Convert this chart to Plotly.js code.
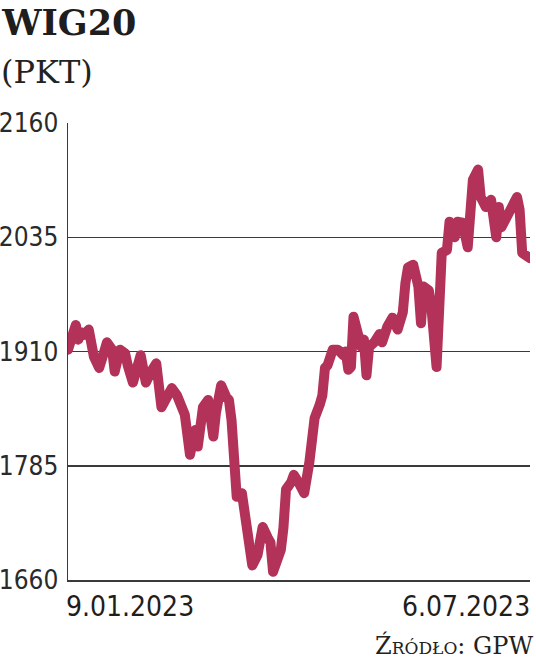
<!DOCTYPE html>
<html>
<head>
<meta charset="utf-8">
<script src="https://cdn.plot.ly/plotly-3.0.1.min.js"></script>
<style>
html,body{margin:0;padding:0;background:#fff;}
#chart{width:536px;height:667px;}
#chart .scatterlayer path.js-line{stroke-linejoin:round;stroke-linecap:round;}
</style>
</head>
<body>
<div id="chart"></div>
<script>
// WIG20 closing levels (points)
const dates = [
  '2023-01-09','2023-01-11','2023-01-12','2023-01-13','2023-01-14','2023-01-15','2023-01-17','2023-01-19','2023-01-21','2023-01-22',
  '2023-01-24','2023-01-26','2023-01-27','2023-01-29','2023-01-31','2023-02-01','2023-02-03','2023-02-06','2023-02-08','2023-02-10',
  '2023-02-12','2023-02-14','2023-02-16','2023-02-18','2023-02-20','2023-02-21','2023-02-23','2023-02-25','2023-02-27','2023-02-28',
  '2023-03-02','2023-03-04','2023-03-06','2023-03-07','2023-03-09','2023-03-11','2023-03-12','2023-03-13','2023-03-14','2023-03-15',
  '2023-03-17','2023-03-19','2023-03-20','2023-03-21','2023-03-23','2023-03-25','2023-03-27','2023-03-28','2023-03-29','2023-03-30',
  '2023-04-01','2023-04-02','2023-04-03','2023-04-05','2023-04-06','2023-04-08','2023-04-10','2023-04-12','2023-04-13','2023-04-14',
  '2023-04-16','2023-04-17','2023-04-18','2023-04-19','2023-04-21','2023-04-23','2023-04-25','2023-04-26','2023-04-27','2023-04-28',
  '2023-04-29','2023-04-30','2023-05-02','2023-05-03','2023-05-04','2023-05-05','2023-05-07','2023-05-09','2023-05-10','2023-05-12',
  '2023-05-14','2023-05-16','2023-05-18','2023-05-19','2023-05-20','2023-05-22','2023-05-24','2023-05-25','2023-05-26','2023-05-28',
  '2023-05-29','2023-05-31','2023-06-01','2023-06-02','2023-06-04','2023-06-05','2023-06-06','2023-06-07','2023-06-08','2023-06-10',
  '2023-06-12','2023-06-13','2023-06-14','2023-06-16','2023-06-17','2023-06-19','2023-06-20','2023-06-21','2023-06-23','2023-06-24',
  '2023-06-25','2023-06-26','2023-06-28','2023-06-29','2023-07-01','2023-07-02','2023-07-03','2023-07-06'
];
const wig20 = [
  1912,1934,1939,1923,1931,1928,1934,1904,1892,1901,
  1920,1912,1888,1912,1908,1895,1876,1906,1876,1888,
  1897,1849,1859,1870,1862,1854,1841,1797,1824,1806,
  1849,1857,1817,1843,1873,1860,1857,1835,1806,1751,
  1755,1707,1704,1676,1687,1718,1706,1701,1669,1676,
  1693,1717,1759,1767,1775,1766,1755,1789,1813,1837,
  1852,1862,1892,1895,1912,1912,1906,1910,1890,1893,
  1948,1934,1915,1923,1884,1915,1920,1929,1920,1937,
  1947,1934,1953,1985,2002,2005,1981,1941,1981,1977,
  1959,1893,1972,2018,2021,2052,2046,2035,2052,2051,
  2024,2073,2098,2109,2079,2068,2076,2076,2035,2068,
  2046,2051,2063,2065,2079,2065,2018,2012
];
const yTicks = [1660, 1785, 1910, 2035, 2160];
const xTickDates = ['2023-01-09', '2023-07-06'];
const xTickLabels = ['9.01.2023', '6.07.2023'];
const titleText = 'WIG20';
const unitText = '(PKT)';
const sourceText = 'Źródło: GPW';

const trace = {
  x: dates, y: wig20, type: 'scatter', mode: 'lines',
  line: {color: '#b3325a', width: 10, shape: 'linear'},
  hoverinfo: 'skip'
};

const layout = {
  width: 536, height: 667, autosize: false,
  margin: {l: 68, r: 6, t: 123, b: 87, pad: 0},
  paper_bgcolor: '#ffffff', plot_bgcolor: '#ffffff',
  showlegend: false,
  title: {
    text: '<b>' + titleText + '</b>',
    xref: 'container', yref: 'container', x: 0.004, xanchor: 'left',
    y: 0.984, yanchor: 'top',
    font: {family: 'DejaVu Serif', size: 35, color: '#1e1e1e'}
  },
  xaxis: {
    type: 'date', range: [xTickDates[0], xTickDates[1]],
    showgrid: false, zeroline: false, showticklabels: false, ticks: '',
    showline: true, linecolor: '#3a3a3a', linewidth: 1.5, fixedrange: true
  },
  yaxis: {
    range: [1660, 2160], tickmode: 'array', tickvals: yTicks, ticktext: yTicks.map(String),
    showgrid: true, gridcolor: '#3a3a3a', gridwidth: 1.5, zeroline: false,
    showline: true, linecolor: '#3a3a3a', linewidth: 1.5, ticks: '',
    ticklabelstandoff: 3,
    tickfont: {family: 'DejaVu Sans Condensed, DejaVu Sans, sans-serif', size: 26, color: '#2a2a2a', weight: 300},
    fixedrange: true
  },
  annotations: [
    {text: unitText, xref: 'paper', yref: 'paper', x: -0.149, y: (580 - 72) / 457,
     xanchor: 'left', yanchor: 'middle', showarrow: false,
     font: {family: 'DejaVu Serif', size: 32, color: '#222'}},
    {text: xTickLabels[0], xref: 'x', yref: 'paper', x: xTickDates[0], y: -0.058,
     xanchor: 'left', yanchor: 'middle', showarrow: false, xshift: -4,
     font: {family: 'DejaVu Sans Condensed, DejaVu Sans, sans-serif', size: 28, color: '#1e1e1e'}},
    {text: xTickLabels[1], xref: 'x', yref: 'paper', x: xTickDates[1], y: -0.058,
     xanchor: 'right', yanchor: 'middle', showarrow: false, xshift: 2,
     font: {family: 'DejaVu Sans Condensed, DejaVu Sans, sans-serif', size: 28, color: '#1e1e1e'}},
    {text: sourceText, xref: 'paper', yref: 'paper', x: 1.010, y: (580 - 645) / 457,
     xanchor: 'right', yanchor: 'middle', showarrow: false,
     font: {family: 'DejaVu Serif', size: 24, color: '#222', variant: 'small-caps'}}
  ]
};

Plotly.newPlot('chart', [trace], layout, {displayModeBar: false, staticPlot: true});
</script>
</body>
</html>
